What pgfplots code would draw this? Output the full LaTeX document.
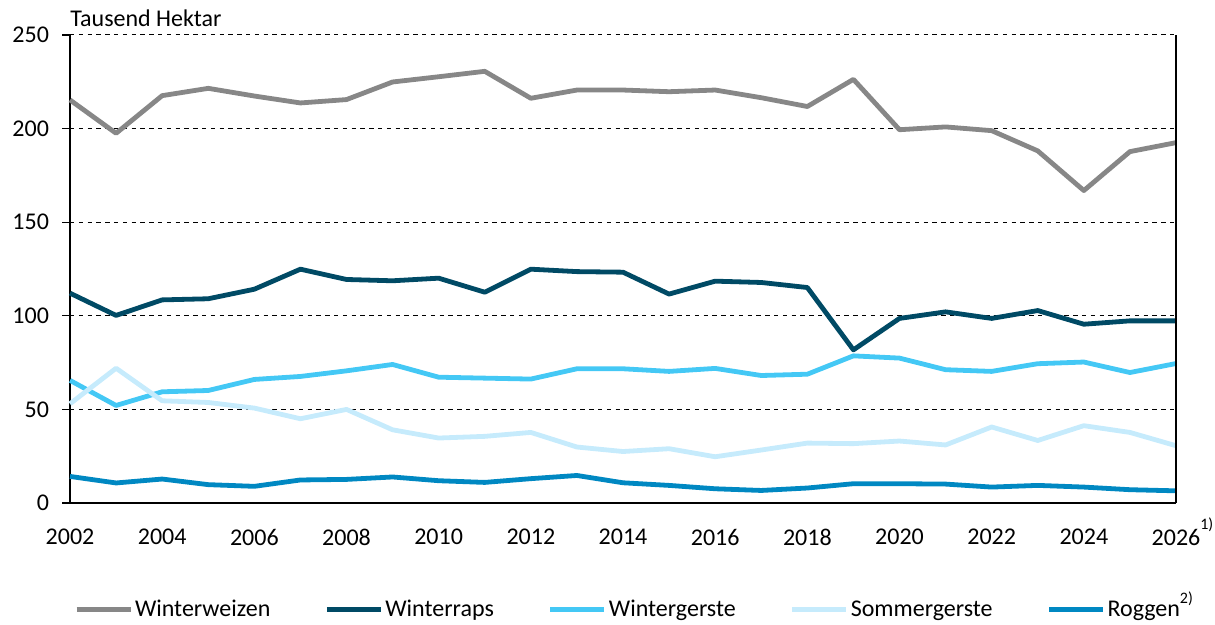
\documentclass[border=0pt]{standalone}
\usepackage{pgfplots}
\pgfplotsset{compat=1.18}
\usepackage{fontspec}
\setmainfont{Carlito}
\definecolor{cWeizen}{HTML}{878787}
\definecolor{cRaps}{HTML}{004A65}
\definecolor{cWGerste}{HTML}{44C8F5}
\definecolor{cSGerste}{HTML}{C6EBFC}
\definecolor{cRoggen}{HTML}{0088C2}
\pgfplotstableread{
year weizen raps wgerste sgerste roggen
2002 215.3 112.1 65.5 53.0 14.2
2003 197.5 100.2 52.1 72.0 10.7
2004 217.6 108.5 59.4 54.6 12.8
2005 221.5 109.1 60.1 53.7 9.8
2006 217.4 114.2 66.0 50.7 8.9
2007 213.7 124.9 67.6 45.0 12.3
2008 215.5 119.4 70.6 50.0 12.6
2009 224.9 118.7 74.0 39.1 13.9
2010 227.7 120.1 67.2 34.7 11.9
2011 230.6 112.6 66.7 35.6 11.0
2012 216.2 124.9 66.2 37.7 13.0
2013 220.6 123.6 71.7 29.9 14.7
2014 220.6 123.3 71.7 27.5 10.8
2015 219.7 111.6 70.3 29.0 9.4
2016 220.6 118.5 71.9 24.7 7.6
2017 216.5 117.8 68.1 28.3 6.7
2018 211.8 115.1 68.8 32.0 8.0
2019 226.3 81.8 78.6 31.7 10.3
2020 199.4 98.6 77.4 33.1 10.3
2021 200.9 102.1 71.2 31.0 10.1
2022 198.9 98.6 70.3 40.6 8.5
2023 188.1 102.8 74.4 33.4 9.4
2024 166.9 95.5 75.3 41.3 8.5
2025 187.7 97.3 69.7 37.7 7.1
2026 192.5 97.3 74.5 30.6 6.5
}\datatable
\newcommand{\fn}[2][1.35ex]{\rlap{\smash{\raisebox{#1}{\fontsize{8}{9}\selectfont #2}}}}
\begin{document}
\begin{tikzpicture}
\useasboundingbox (-35pt,-61pt) rectangle (572.5pt,251.5pt);
\begin{axis}[
  scale only axis,
  width=553pt, height=234pt,
  xmin=2002, xmax=2026,
  ymin=0, ymax=250,
  axis x line*=bottom,
  axis y line*=left,
  axis line style={black, line width=0.8pt, -},
  xtick={2002,2004,...,2026},
  xticklabels={2002,2004,2006,2008,2010,2012,2014,2016,2018,2020,2022,2024,{2026\fn{1)}}},
  x tick style={draw=none},
  xticklabel style={yshift=-5.5pt},
  ytick={0,50,...,250},
  y tick style={black, line width=0.6pt},
  tick align=outside,
  major tick length=4pt,
  yticklabel style={xshift=-3pt},
  /pgf/number format/assume math mode=true,
  ymajorgrids,
  grid style={black, line width=0.5pt, dash pattern=on 2.2pt off 2.2pt},
  tick label style={font=\fontsize{12}{14}\selectfont},
  legend style={draw=none, fill=none, font=\fontsize{12}{14}\selectfont,
    at={(rel axis cs:0.5,0)}, anchor=center, xshift=3pt, yshift=-53.5pt,
    legend columns=-1,
    /tikz/every odd column/.append style={column sep=-1pt},
    /tikz/every even column/.append style={column sep=25pt}},
  legend cell align=left,
  legend image code/.code={\draw[#1, line width=2.5pt] (0pt,0pt) -- (27pt,0pt);},
  every axis plot/.append style={line width=2.4pt, no markers, line join=round},
  clip=false,
]
\addplot[cWeizen] table[x=year, y=weizen] {\datatable};
\addlegendentry{Winterweizen}
\addplot[cRaps] table[x=year, y=raps] {\datatable};
\addlegendentry{Winterraps}
\addplot[cWGerste] table[x=year, y=wgerste] {\datatable};
\addlegendentry{Wintergerste}
\addplot[cSGerste] table[x=year, y=sgerste] {\datatable};
\addlegendentry{Sommergerste}
\addplot[cRoggen] table[x=year, y=roggen] {\datatable};
\addlegendentry{Roggen\fn[1.1ex]{2)}}
\draw[black, line width=0.8pt] (rel axis cs:1,0) -- (rel axis cs:1,1);
\node[anchor=south west, inner sep=0pt, font=\fontsize{12}{14}\selectfont] at (rel axis cs:0,1) [yshift=4pt] {Tausend Hektar};
\end{axis}
\end{tikzpicture}
\end{document}
